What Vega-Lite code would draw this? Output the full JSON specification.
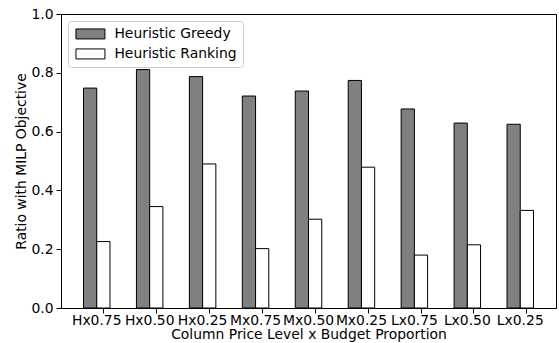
{
  "$schema": "https://vega.github.io/schema/vega-lite/v6.json",
  "width": 495,
  "height": 294,
  "autosize": "none",
  "padding": {"left": 61, "top": 14, "right": 3, "bottom": 35},
  "background": "white",
  "config": {
    "font": "DejaVu Sans",
    "view": {"stroke": "#000000", "strokeWidth": 1},
    "axis": {
      "labelFont": "DejaVu Sans",
      "titleFont": "DejaVu Sans",
      "labelFontSize": 13.9,
      "titleFontSize": 13.9,
      "labelColor": "#000000",
      "titleColor": "#000000",
      "titleFontWeight": "normal",
      "domainColor": "#000000",
      "tickColor": "#000000",
      "tickSize": 5,
      "grid": false
    }
  },
  "data": {
    "values": [
      {"cat": "Hx0.75", "method": "Heuristic Greedy", "value": 0.748},
      {"cat": "Hx0.50", "method": "Heuristic Greedy", "value": 0.811},
      {"cat": "Hx0.25", "method": "Heuristic Greedy", "value": 0.787},
      {"cat": "Mx0.75", "method": "Heuristic Greedy", "value": 0.721},
      {"cat": "Mx0.50", "method": "Heuristic Greedy", "value": 0.738},
      {"cat": "Mx0.25", "method": "Heuristic Greedy", "value": 0.774},
      {"cat": "Lx0.75", "method": "Heuristic Greedy", "value": 0.677},
      {"cat": "Lx0.50", "method": "Heuristic Greedy", "value": 0.629},
      {"cat": "Lx0.25", "method": "Heuristic Greedy", "value": 0.625},
      {"cat": "Hx0.75", "method": "Heuristic Ranking", "value": 0.226},
      {"cat": "Hx0.50", "method": "Heuristic Ranking", "value": 0.345},
      {"cat": "Hx0.25", "method": "Heuristic Ranking", "value": 0.490},
      {"cat": "Mx0.75", "method": "Heuristic Ranking", "value": 0.202},
      {"cat": "Mx0.50", "method": "Heuristic Ranking", "value": 0.302},
      {"cat": "Mx0.25", "method": "Heuristic Ranking", "value": 0.479},
      {"cat": "Lx0.75", "method": "Heuristic Ranking", "value": 0.180},
      {"cat": "Lx0.50", "method": "Heuristic Ranking", "value": 0.215},
      {"cat": "Lx0.25", "method": "Heuristic Ranking", "value": 0.332}
    ]
  },
  "mark": {"type": "bar", "stroke": "#000000", "strokeWidth": 1},
  "encoding": {
    "x": {
      "field": "cat",
      "type": "nominal",
      "sort": null,
      "scale": {"paddingInner": 0, "paddingOuter": 0.175},
      "axis": {
        "title": "Column Price Level x Budget Proportion",
        "labelAngle": 0,
        "bandPosition": 0.625,
        "labelPadding": 0,
        "titlePadding": 1
      }
    },
    "xOffset": {
      "field": "method",
      "type": "nominal",
      "scale": {"paddingInner": 0, "paddingOuter": 1}
    },
    "y": {
      "field": "value",
      "type": "quantitative",
      "scale": {"domain": [0, 1], "nice": false},
      "axis": {
        "title": "Ratio with MILP Objective",
        "values": [0, 0.2, 0.4, 0.6, 0.8, 1.0],
        "format": ".1f",
        "labelPadding": 3,
        "titlePadding": 2
      }
    },
    "fill": {
      "field": "method",
      "type": "nominal",
      "scale": {"domain": ["Heuristic Greedy", "Heuristic Ranking"], "range": ["#808080", "#ffffff"]},
      "legend": {
        "title": null,
        "orient": "none",
        "legendX": 7,
        "legendY": 7,
        "symbolType": "M-2.9,-1H2.9V1H-2.9Z",
        "symbolSize": 100,
        "symbolOffset": 9.5,
        "symbolStrokeColor": "#000000",
        "symbolStrokeWidth": 1,
        "symbolOpacity": 1,
        "labelFont": "DejaVu Sans",
        "labelFontSize": 13.9,
        "labelColor": "#000000",
        "labelOffset": 17,
        "rowPadding": 5,
        "padding": 6,
        "cornerRadius": 3,
        "strokeColor": "#cccccc",
        "fillColor": "#ffffff"
      }
    }
  }
}
